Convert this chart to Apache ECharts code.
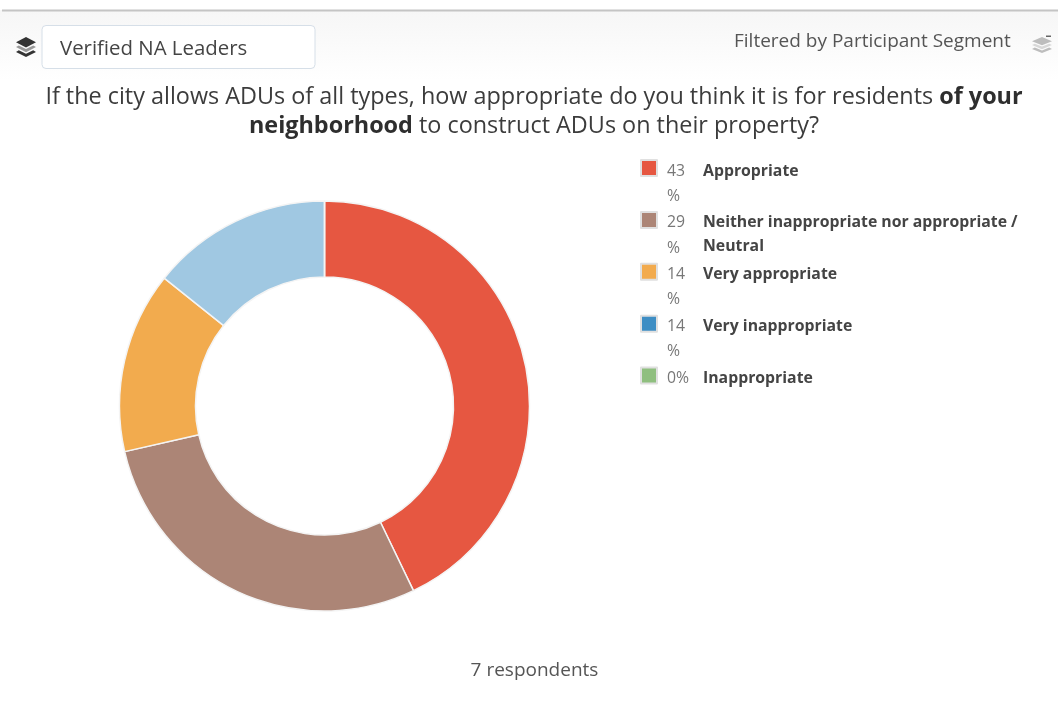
<!DOCTYPE html>
<html><head><meta charset="utf-8">
<style>html,body{margin:0;padding:0;background:#fff}#c{width:1058px;height:709px}</style>
<script src="https://cdn.jsdelivr.net/npm/echarts@6/dist/echarts.min.js"></script>
</head><body><div id="c"></div>
<script>
const categories = ['Appropriate','Neither inappropriate nor appropriate / Neutral','Very appropriate','Very inappropriate','Inappropriate'];
const respondents = [3,2,1,1,0];
const percentLabels = ['43','29','14','14','0%'];
const legendFirstLines = ['Appropriate','Neither inappropriate nor appropriate /','Very appropriate','Very inappropriate','Inappropriate'];
const legendSecondLines = ['','Neutral','','',''];
const sliceColors = ['#E65741','#AC8576','#F2AB4E','#A0C8E2','#8FBF7F'];
const legendColors = ['#E65741','#AC8576','#F2AB4E','#3E8EC4','#8FBF7F'];
const font = '"Open Sans", sans-serif';
const legendTop = 154, legendStep = 51.7;
function stackIcon(x,y,w,h,top,low){
  const P=(a)=>a.map(p=>[x+p[0]*w,y+p[1]*h]);
  return [
    {type:'polygon',shape:{points:P([[0,.75],[.14,.66],[.5,.84],[.86,.66],[1,.75],[.5,1]])},style:{fill:top}},
    {type:'polygon',shape:{points:P([[0,.5],[.14,.42],[.5,.6],[.86,.42],[1,.5],[.5,.76]])},style:{fill:low}},
    {type:'polygon',shape:{points:P([[.5,0],[1,.26],[.5,.52],[0,.26]])},style:{fill:top}}
  ];
}
const chart = echarts.init(document.getElementById('c'), null, {renderer:'canvas'});
chart.setOption({
  animation:false,
  backgroundColor:'#fff',
  title:{
    left:529, top:78, textAlign:'center',
    text:'{n|If the city allows ADUs of all types, how appropriate do you think it is for residents }{b|of your}\n{b|neighborhood}{n| to construct ADUs on their property?}',
    textStyle:{fontWeight:'normal',rich:{
      n:{fontFamily:font,fontSize:23.4,fontWeight:'normal',color:'#3c3c3c',lineHeight:29},
      b:{fontFamily:font,fontSize:23.4,fontWeight:'bold',color:'#2e2e2e',lineHeight:29}
    }}
  },
  legend:{
    orient:'vertical', left:635, top:legendTop, itemWidth:16, itemHeight:16, itemGap:legendStep-19.8,
    icon:'rect', selectedMode:false,
    data:categories.map((c,i)=>({name:c,itemStyle:{color:legendColors[i],borderColor:'#e0e0e0',borderWidth:2}})),
    formatter:n=>{const i=categories.indexOf(n);return '{p|'+percentLabels[i]+'}{n|'+legendFirstLines[i]+'}';},
    textStyle:{rich:{
      p:{fontFamily:font,fontSize:15.8,color:'#777',width:36,height:20,verticalAlign:'top',padding:[6,0,0,5]},
      n:{fontFamily:font,fontSize:15.8,fontWeight:'bold',color:'#444',height:20,verticalAlign:'top',padding:[6,0,0,0]}
    }}
  },
  series:[{
    type:'pie', center:[324.5,406], radius:[129,205], startAngle:90, clockwise:true,
    label:{show:false}, labelLine:{show:false}, silent:true,
    itemStyle:{borderColor:'#f4f4f4',borderWidth:1.5},
    data:categories.map((c,i)=>({name:c,value:respondents[i],itemStyle:{color:sliceColors[i]}}))
  }],
  graphic:[
    {type:'rect',z:-1,shape:{x:0,y:10,width:1058,height:70},style:{fill:new echarts.graphic.LinearGradient(0,0,0,1,[{offset:0,color:'#f6f6f6'},{offset:1,color:'#ffffff'}])}},
    {type:'rect',shape:{x:2,y:9.5,width:1056,height:2},style:{fill:'#c4c4c4'}},
    {type:'rect',shape:{x:42,y:25.5,width:273,height:43,r:4},style:{fill:'#fff',stroke:'#d6dfe8',lineWidth:1}},
    ...stackIcon(16,37,20,20,'#333','#999'),
    {type:'text',x:60,y:49,style:{text:'Verified NA Leaders',font:'20.4px '+font,fill:'#444',verticalAlign:'middle'}},
    {type:'text',x:734,y:42,style:{text:'Filtered by Participant Segment',font:'19px '+font,fill:'#555',verticalAlign:'middle'}},
    ...stackIcon(1032,37,20,16,'#bdbdbd','#d8d8d8'),
    {type:'rect',shape:{x:1046,y:35.5,width:5,height:1.5},style:{fill:'#666'}},
    ...percentLabels.map((p,i)=>p.includes('%')?null:{type:'text',x:667,y:196.5+i*legendStep,style:{text:'%',font:'15.8px '+font,fill:'#777',verticalAlign:'middle'}}).filter(Boolean),
    ...legendSecondLines.map((t,i)=>t?{type:'text',x:703,y:195+i*legendStep-0.5,style:{text:t,font:'bold 15.8px '+font,fill:'#444',verticalAlign:'middle'}}:null).filter(Boolean),
    {type:'text',x:534.5,y:671,style:{text:'7 respondents',font:'19px '+font,fill:'#555',align:'center',verticalAlign:'middle'}}
  ]
});
</script></body></html>
